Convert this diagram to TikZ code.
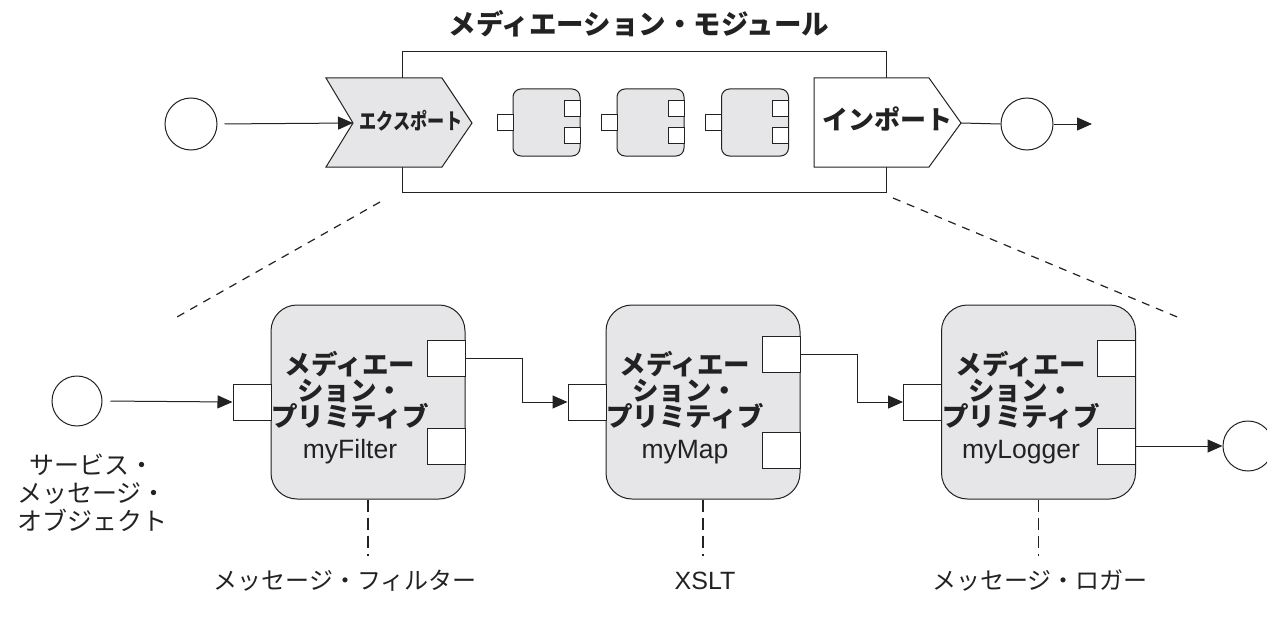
\documentclass[tikz,border=0pt]{standalone}
\usepackage{fontspec}
\usepackage{graphicx}
\setmainfont{Liberation Sans}
\newfontfamily\jp{Noto Sans CJK JP}
\newfontfamily\lat{Liberation Sans}
\usetikzlibrary{arrows.meta,calc}
\definecolor{boxgray}{HTML}{E6E6E8}
\definecolor{ink}{HTML}{222222}
\tikzset{
  arr/.style={-{Triangle[length=15pt,width=13pt]}},
  dash line/.style={dash pattern=on 8pt off 7pt, line width=1.2pt},
  vdash line/.style={dash pattern=on 12pt off 6pt, line width=1.8pt},
  endcircle/.style={circle, draw=ink, fill=white, minimum size=52pt, inner sep=0pt},
  smallbox/.style={draw=ink, fill=boxgray, rounded corners=8pt, minimum width=67pt, minimum height=67pt, inner sep=0pt},
  smallport/.style={draw=ink, fill=white, minimum width=16pt, minimum height=16pt, inner sep=0pt},
  primbox/.style={draw=ink, fill=boxgray, rounded corners=26pt, minimum width=194pt, minimum height=194pt, inner sep=0pt},
  primport/.style={draw=ink, fill=white, minimum width=38pt, minimum height=36pt, inner sep=0pt},
  primtext/.style={align=center, inner sep=0pt, anchor=north, font=\fontsize{26.5}{26}\selectfont\jp\bfseries},
  lbl/.style={inner sep=0pt, font=\fontsize{24}{26}\selectfont\jp},
}
\begin{document}
\begin{tikzpicture}[x=1pt,y=-1pt,color=ink,line width=1pt]
\useasboundingbox (0,0) rectangle (1267,618);

% title
\node[inner sep=0pt, font=\fontsize{27.5}{29}\selectfont\jp\bfseries] (title) at (639,24) {メディエーション・モジュール};

% module frame
\draw (402,52) rectangle (886,192);

% export chevron
\draw[fill=boxgray] (326,78) -- (442,78) -- (472,123) -- (442,167) -- (326,167) -- (353,123) -- cycle;
\coordinate (expnotch) at (353,123);
\node[inner sep=0pt, font=\fontsize{22}{22}\selectfont\jp\bfseries] (exptext) at (411,121) {\scalebox{0.78}[1]{エクスポート}};

% import pentagon
\draw[fill=white] (814,78) -- (929,78) -- (961,123) -- (929,167) -- (814,167) -- cycle;
\coordinate (imptip) at (961,123);
\node[inner sep=0pt, font=\fontsize{26}{28}\selectfont\jp\bfseries] (imptext) at (887,119) {インポート};

% top circles
\node[endcircle] (cin) at (191,124) {};
\node[endcircle] (cout) at (1027,124) {};
\coordinate (topend) at (1092,124);
\draw[arr, shorten <=7pt] (cin.east) -- (expnotch);
\draw (imptip) -- (cout.west);
\draw[arr] (cout.east) -- (topend);

% small components
\foreach \n/\cx in {a/546.5, b/650.5, c/755} {
  \node[smallbox] (sb\n) at (\cx,122.5) {};
  \node[smallport] (sbl\n) at (\cx-41.5,122.5) {};
  \node[smallport] (sbr\n1) at (\cx+25.5,108.5) {};
  \node[smallport] (sbr\n2) at (\cx+25.5,135.5) {};
}

% dashed zoom lines
\coordinate (zl1) at (380,202);
\coordinate (zl2) at (177,317);
\coordinate (zr1) at (893,198);
\coordinate (zr2) at (1182,319);
\draw[dash line] (zl1) -- (zl2);
\draw[dash line] (zr1) -- (zr2);

% primitives
\foreach \n/\cx in {1/368, 2/703, 3/1038.5} {
  \node[primbox] (p\n) at (\cx,402) {};
  \node[primport] (pl\n) at (\cx-116,402) {};
}
\node[primport] (pr11) at (446,358.5) {};
\node[primport] (pr12) at (446,446) {};
\node[primport] (pr21) at (781,354) {};
\node[primport] (pr22) at (781,450) {};
\node[primport] (pr31) at (1116.5,358.5) {};
\node[primport] (pr32) at (1116.5,446) {};

\node[primtext] (t1) at (350,351) {メディエー\\ション・\\プリミティブ\\[6pt]{\lat\mdseries myFilter}};
\node[primtext] (t2) at (685,351) {メディエー\\ション・\\プリミティブ\\[6pt]{\lat\mdseries myMap}};
\node[primtext] (t3) at (1021,351) {メディエー\\ション・\\プリミティブ\\[6pt]{\lat\mdseries myLogger}};

% bottom circles and connectors
\node[endcircle, minimum size=50pt] (bin) at (77,401) {};
\node[endcircle, minimum size=50pt] (bout) at (1248,446) {};
\draw[arr, shorten <=8pt] (bin.east) -- (pl1.west);
\draw[arr] (pr11.east) -- ++(57,0) |- (pl2.west);
\draw[arr] (pr21.east) -- ++(57,0) |- (pl3.west);
\draw[arr] (pr32.east) -- (bout.west);

% service message object label
\node[align=center, inner sep=0pt, font=\fontsize{25}{28}\selectfont\jp] (smo) at (92,493) {サービス・\\メッセージ・\\オブジェクト};

% bottom labels
\node[lbl] (lb1) at (345,581) {メッセージ・フィルター};
\node[inner sep=0pt, font=\fontsize{25}{28}\selectfont\lat] (lb2) at (705,581) {XSLT};
\node[lbl] (lb3) at (1040,581) {メッセージ・ロガー};
\draw[vdash line] (p1.south) -- (p1.south |- 0,556);
\draw[vdash line] (p2.south) -- (p2.south |- 0,556);
\draw[vdash line] (p3.south) -- (p3.south |- 0,556);
\end{tikzpicture}
\end{document}
